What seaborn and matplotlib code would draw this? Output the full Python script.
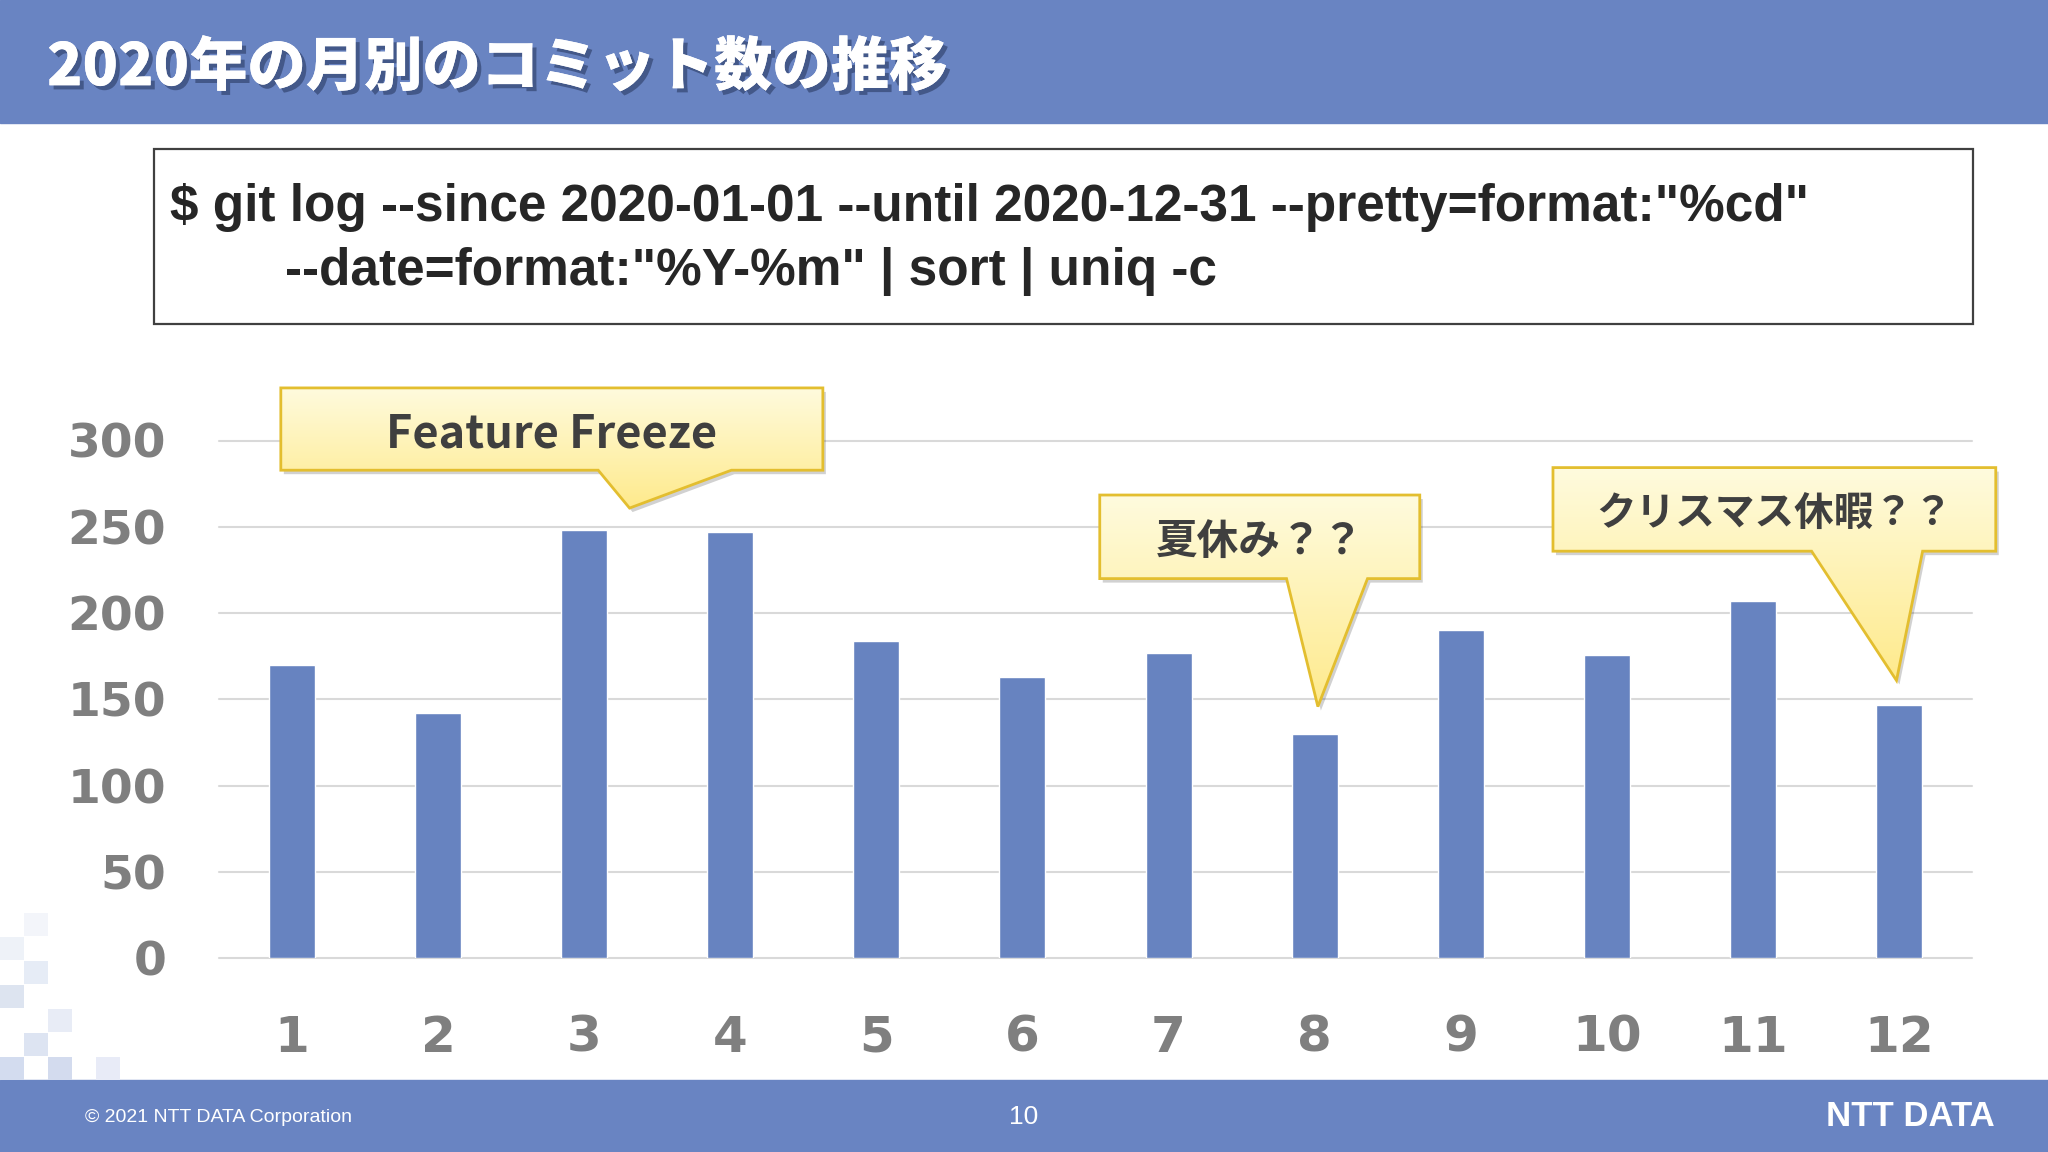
import numpy as np
import pandas as pd
import matplotlib
matplotlib.use("Agg")
import matplotlib.pyplot as plt
import matplotlib.patheffects as pe
from matplotlib.patches import Polygon, Rectangle
import seaborn as sns

# ---------------- data ----------------
months = ["1", "2", "3", "4", "5", "6", "7", "8", "9", "10", "11", "12"]
commits = [170, 142, 248, 247, 184, 163, 177, 130, 190, 176, 207, 147]
y_ticks = [0, 50, 100, 150, 200, 250, 300]

title_text = "2020年の月別のコミット数の推移"
cmd_line1 = "$ git log --since 2020-01-01 --until 2020-12-31 --pretty=format:\"%cd\""
cmd_line2 = "--date=format:\"%Y-%m\" | sort | uniq -c"
callout_texts = ["Feature Freeze", "夏休み？？", "クリスマス休暇？？"]
footer_left = "© 2021 NTT DATA Corporation"
footer_page = "10"
footer_logo = "NTT DATA"

# ---------------- style ----------------
sns.set_theme(style="white")
plt.rcParams["font.family"] = ["Noto Sans CJK JP", "DejaVu Sans"]

BLUE = "#6984C2"
BAR = "#6783C0"
GRAY_TXT = "#7F7F7F"

W, H = 2048, 1152
fig = plt.figure(figsize=(W / 100, H / 100), dpi=100)
fig.patch.set_facecolor("white")

# overlay axes in pixel coordinates (origin top-left)
ov = fig.add_axes([0, 0, 1, 1], zorder=0)
ov.set_xlim(0, W)
ov.set_ylim(H, 0)
ov.axis("off")

# header band
ov.add_patch(Rectangle((0, 0), W, 123, color=BLUE, zorder=1))
ov.text(47, 68, title_text, color="white", fontsize=42, fontweight="black",
        va="center", ha="left", zorder=3,
        path_effects=[pe.withSimplePatchShadow(offset=(3, -3), shadow_rgbFace="#2b3b63", alpha=0.6),
                      pe.Normal()])

# footer band
ov.add_patch(Rectangle((0, 1080), W, 72, color=BLUE, zorder=1))
ov.text(85, 1118, footer_left, color="white", fontsize=14, va="center", ha="left",
        family=["Liberation Sans", "DejaVu Sans"], zorder=3)
ov.text(1024, 1117, footer_page, color="white", fontsize=19, va="center", ha="center",
        family=["Liberation Sans", "DejaVu Sans"], zorder=3)
ov.text(1995, 1117, footer_logo, color="white", fontsize=25, fontweight="bold", va="center",
        ha="right", family=["Liberation Sans Narrow", "Liberation Sans", "DejaVu Sans"], zorder=3)

# decorative squares bottom-left
squares = [(0, 937, "#EEF2F8"), (24, 961, "#E6ECF6"), (0, 985, "#DDE4F0"),
           (48, 1009, "#E8ECF6"), (24, 1033, "#DDE4F2"), (0, 1057, "#D3DCEF"),
           (48, 1057, "#D3DBEE"), (96, 1057, "#E8EBF7"), (24, 913, "#F3F5FA")]
for sx, sy, c in squares:
    ov.add_patch(Rectangle((sx, sy), 24, 23, color=c, zorder=1, lw=0))

# command box
ov.add_patch(Rectangle((154, 149), 1819, 175, fill=False, edgecolor="#404040", lw=1.6, zorder=2))
code_font = ["Liberation Sans Narrow", "Liberation Sans", "DejaVu Sans"]
ov.text(170, 208, cmd_line1, fontsize=37, fontweight="bold", color="#262626",
        va="center", ha="left", family=code_font, zorder=3)
ov.text(285, 271, cmd_line2, fontsize=37, fontweight="bold", color="#262626",
        va="center", ha="left", family=code_font, zorder=3)

# ---------------- chart ----------------
ax_left, ax_right = 219 / W, 1972 / W
ax_bottom = (H - 958.3) / H
ax_top = (H - 440.5) / H
ax = fig.add_axes([ax_left, ax_bottom, ax_right - ax_left, ax_top - ax_bottom], zorder=2)
ax.patch.set_alpha(0)

df = pd.DataFrame({"month": months, "commits": commits})
sns.barplot(data=df, x="month", y="commits", order=months, color=BAR,
            width=0.315, saturation=1, ax=ax, zorder=3)
ax.set_xlim(-0.5, len(months) - 0.5)
ax.set_ylim(0, 300)
ax.set_yticks(y_ticks)
ax.set_yticklabels([str(v) for v in y_ticks])
ax.set_xlabel("")
ax.set_ylabel("")
for s in ax.spines.values():
    s.set_visible(False)
ax.yaxis.grid(True, color="#D9D9D9", lw=1.5)
ax.set_axisbelow(True)
for gl in ax.get_ygridlines():
    gl.set_clip_on(False)
ax.tick_params(axis="y", length=0, pad=38, labelsize=34, labelcolor=GRAY_TXT)
ax.tick_params(axis="x", length=0, pad=40, labelsize=36, labelcolor=GRAY_TXT)
for lab in ax.get_yticklabels() + ax.get_xticklabels():
    lab.set_fontweight("bold")
    lab.set_family(["DejaVu Sans"])

# ---------------- callouts (pixel coords overlay on top) ----------------
top = fig.add_axes([0, 0, 1, 1], zorder=5)
top.set_xlim(0, W)
top.set_ylim(H, 0)
top.axis("off")
top.patch.set_alpha(0)

def callout(box, base, tip, text, size):
    l, r, t, b = box
    pts = [(l, t), (r, t), (r, b), (base[1], b), tip, (base[0], b), (l, b)]
    shadow = Polygon([(x + 3, y + 4) for x, y in pts], closed=True, color="#000000",
                     alpha=0.18, lw=0, zorder=1)
    top.add_patch(shadow)
    poly = Polygon(pts, closed=True, fill=False, edgecolor="#E3BE2F", lw=2.0, zorder=3)
    top.add_patch(poly)
    grad = np.linspace(0, 1, 256).reshape(-1, 1)
    c1 = np.array([255, 251, 222]) / 255
    c2 = np.array([254, 234, 140]) / 255
    img = c1[None, None, :] * (1 - grad[..., None]) + c2[None, None, :] * grad[..., None]
    ymax = max(b, tip[1])
    im = top.imshow(img, extent=(l, r, ymax, t), aspect="auto", zorder=2, interpolation="bilinear")
    clip = Polygon(pts, closed=True, transform=top.transData)
    im.set_clip_path(clip)
    top.text((l + r) / 2, (t + b) / 2 + 5, text, fontsize=size, fontweight="bold",
             color="#3F3F3F", ha="center", va="center", zorder=4)

s = 2048 / 1568
callout((215 * s, 630 * s, 297 * s, 360 * s), (458 * s, 560 * s), (482 * s, 389 * s),
        callout_texts[0], 32.5)
callout((842 * s, 1087 * s, 379 * s, 443 * s), (985 * s, 1047 * s), (1009 * s, 541 * s),
        callout_texts[1], 30)
callout((1189 * s, 1528 * s, 358 * s, 422 * s), (1387 * s, 1472 * s), (1452 * s, 521 * s),
        callout_texts[2], 28.5)
top.set_xlim(0, W)
top.set_ylim(H, 0)

fig.savefig("out.png", dpi=100)
